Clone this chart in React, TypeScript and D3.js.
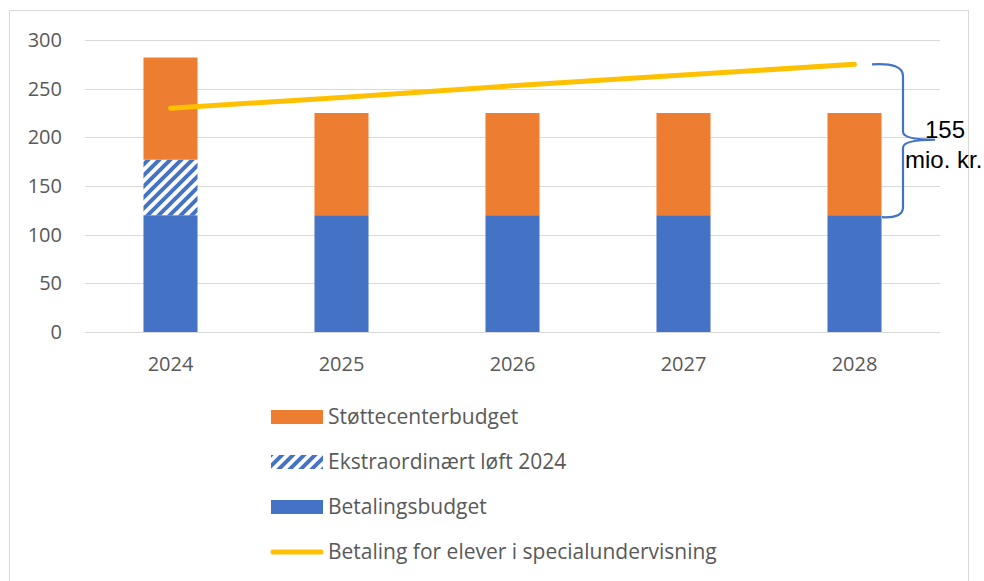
import React, { useEffect, useRef } from 'react';
import * as d3 from 'd3';

const years = ['2024', '2025', '2026', '2027', '2028'];
const betalingsbudget = [120, 120, 120, 120, 120];
const ekstraordinaert = [57, 0, 0, 0, 0];
const stottecenterbudget = [105, 105, 105, 105, 105];
const betalingElever = [230, 241, 253, 264, 275];
const yTicks = [0, 50, 100, 150, 200, 250, 300];

const legendItems = [
    { label: 'Støttecenterbudget', kind: 'orange' },
    { label: 'Ekstraordinært løft 2024', kind: 'hatch' },
    { label: 'Betalingsbudget', kind: 'blue' },
    { label: 'Betaling for elever i specialundervisning', kind: 'line' },
];

const BLUE = '#4472C4';
const ORANGE = '#ED7D31';
const YELLOW = '#FFC000';
const TEXT = '#595959';
const GRID = '#D9D9D9';
const FONT = '"Open Sans", "Noto Sans", sans-serif';

const App: React.FC = () => {
    const svgRef = useRef<SVGSVGElement>(null);

    useEffect(() => {
        if (!svgRef.current) return;
        const svg = d3.select(svgRef.current);
        svg.selectAll('*').remove();

        const width = 984;
        const height = 581;
        const plot = { left: 85, right: 940, top: 40, bottom: 332 };

        // hatch pattern
        const defs = svg.append('defs');
        const pat = defs.append('pattern')
            .attr('id', 'hatch')
            .attr('patternUnits', 'userSpaceOnUse')
            .attr('width', 11)
            .attr('height', 11);
        pat.append('rect').attr('width', 11).attr('height', 11).attr('fill', 'white');
        pat.append('path')
            .attr('d', 'M-3,14 L14,-3 M-3,3 L3,-3 M8,14 L14,8')
            .attr('stroke', BLUE)
            .attr('stroke-width', 4);

        // chart border
        svg.append('rect')
            .attr('x', 9.5)
            .attr('y', 10.5)
            .attr('width', 959)
            .attr('height', height)
            .attr('fill', 'white')
            .attr('stroke', GRID)
            .attr('stroke-width', 1);

        const x = d3.scaleBand<string>()
            .domain(years)
            .range([plot.left, plot.right])
            .paddingInner(0.684)
            .paddingOuter(0.342);

        const y = d3.scaleLinear()
            .domain([0, 300])
            .range([plot.bottom, plot.top]);

        // grid + y labels
        yTicks.forEach(t => {
            svg.append('line')
                .attr('x1', plot.left)
                .attr('x2', plot.right)
                .attr('y1', Math.round(y(t)) + 0.5)
                .attr('y2', Math.round(y(t)) + 0.5)
                .attr('stroke', GRID)
                .attr('stroke-width', 1);
            svg.append('text')
                .attr('x', 62)
                .attr('y', y(t))
                .attr('dy', '0.35em')
                .attr('text-anchor', 'end')
                .attr('font-family', FONT)
                .attr('font-size', '20px')
                .attr('fill', TEXT)
                .text(t);
        });

        // stacked bars
        const stacks = [
            { values: betalingsbudget, fill: BLUE },
            { values: ekstraordinaert, fill: 'url(#hatch)' },
            { values: stottecenterbudget, fill: ORANGE },
        ];
        years.forEach((yr, i) => {
            let base = 0;
            stacks.forEach(s => {
                const v = s.values[i];
                if (v > 0) {
                    svg.append('rect')
                        .attr('x', x(yr)!)
                        .attr('width', x.bandwidth())
                        .attr('y', y(base + v))
                        .attr('height', y(base) - y(base + v))
                        .attr('fill', s.fill);
                }
                base += v;
            });
        });

        // x labels
        years.forEach(yr => {
            svg.append('text')
                .attr('x', x(yr)! + x.bandwidth() / 2)
                .attr('y', 371)
                .attr('text-anchor', 'middle')
                .attr('font-family', FONT)
                .attr('font-size', '20px')
                .attr('fill', TEXT)
                .text(yr);
        });

        // line
        const line = d3.line<number>()
            .x((_, i) => x(years[i])! + x.bandwidth() / 2)
            .y(d => y(d));
        svg.append('path')
            .datum(betalingElever)
            .attr('d', line)
            .attr('fill', 'none')
            .attr('stroke', YELLOW)
            .attr('stroke-width', 5)
            .attr('stroke-linecap', 'round');

        // curly bracket: from line end down to Betalingsbudget top
        const yTop = y(betalingElever[betalingElever.length - 1]);
        const yBot = y(betalingsbudget[betalingsbudget.length - 1]);
        const yMid = (yTop + yBot) / 2;
        const bx = 903;
        const bracket = d3.path();
        bracket.moveTo(872, yTop);
        bracket.quadraticCurveTo(bx, yTop - 2, bx, yTop + 12);
        bracket.lineTo(bx, yMid - 8);
        bracket.quadraticCurveTo(bx, yMid, 935, yMid);
        bracket.moveTo(935, yMid);
        bracket.quadraticCurveTo(bx, yMid, bx, yMid + 8);
        bracket.lineTo(bx, yBot - 8);
        bracket.quadraticCurveTo(bx, yBot + 3, 882, yBot + 2);
        svg.append('path')
            .attr('d', bracket.toString())
            .attr('fill', 'none')
            .attr('stroke', BLUE)
            .attr('stroke-width', 2.2);

        svg.append('text')
            .attr('x', 945)
            .attr('y', 138)
            .attr('text-anchor', 'middle')
            .attr('font-family', '"Liberation Sans", Arial, sans-serif')
            .attr('font-size', '24px')
            .attr('fill', '#000')
            .text('155');
        svg.append('text')
            .attr('x', 905)
            .attr('y', 168)
            .attr('font-family', '"Liberation Sans", Arial, sans-serif')
            .attr('font-size', '24px')
            .attr('fill', '#000')
            .text('mio. kr.');

        // legend
        legendItems.forEach((item, i) => {
            const cy = 417 + i * 45;
            const g = svg.append('g');
            if (item.kind === 'line') {
                g.append('line')
                    .attr('x1', 273)
                    .attr('x2', 321)
                    .attr('y1', cy)
                    .attr('y2', cy)
                    .attr('stroke', YELLOW)
                    .attr('stroke-width', 5)
                    .attr('stroke-linecap', 'round');
            } else {
                g.append('rect')
                    .attr('x', 271)
                    .attr('y', cy - 7)
                    .attr('width', 52)
                    .attr('height', 14)
                    .attr('fill', item.kind === 'orange' ? ORANGE : item.kind === 'blue' ? BLUE : 'url(#hatch)');
            }
            g.append('text')
                .attr('x', 328)
                .attr('y', cy)
                .attr('dy', '0.35em')
                .attr('font-family', FONT)
                .attr('font-size', '21px')
                .attr('fill', TEXT)
                .text(item.label);
        });

        svg.attr('width', width).attr('height', height);
    }, []);

    return (
        <svg ref={svgRef} width={984} height={581}
            style={{ position: 'absolute', left: 0, top: 0, display: 'block' }} />
    );
};

export default App;
